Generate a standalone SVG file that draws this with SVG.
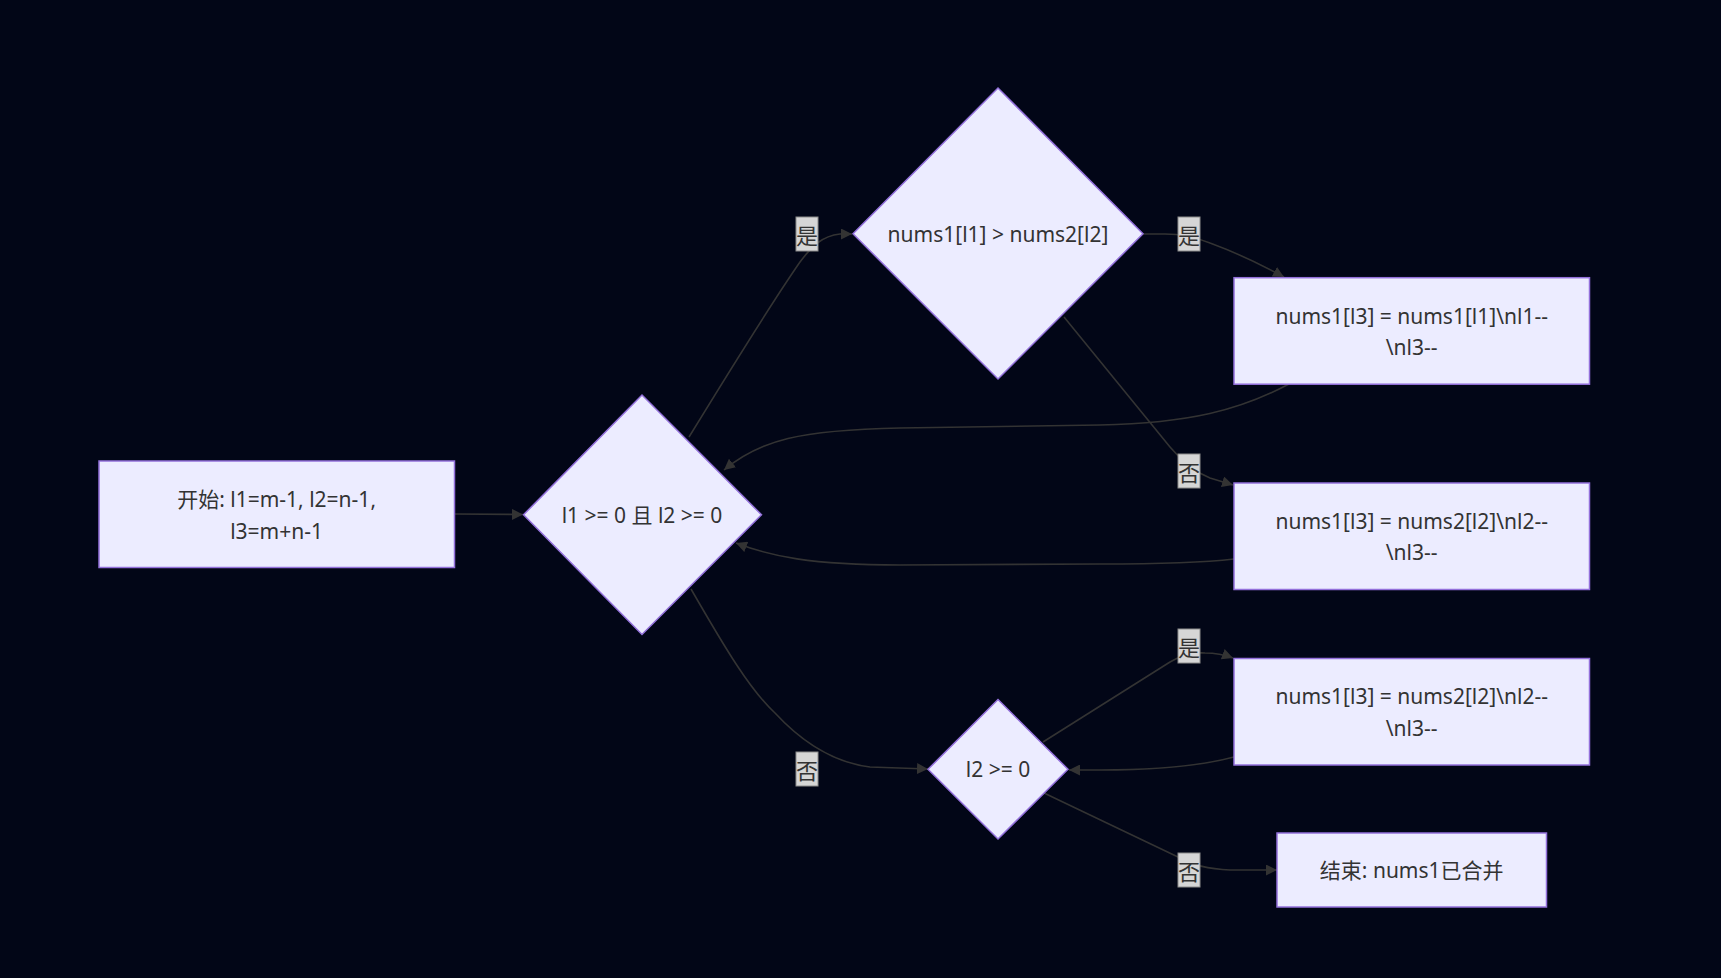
<svg xmlns="http://www.w3.org/2000/svg" width="1721" height="978" viewBox="0 0 1721 978">
<style>
.bg{fill:#020617}
.node{fill:#ECECFF;stroke:#9370DB;stroke-width:1.5}
.t{font-family:"Noto Sans","Noto Sans CJK SC",sans-serif;font-size:21px;fill:#333333;text-anchor:middle;dominant-baseline:central}
.edge{fill:none;stroke:#333333;stroke-width:1.6}
.lbl{fill:#d6d6d6;stroke:#8c8c8c;stroke-width:1}
.lt{font-family:"Noto Sans CJK SC","Noto Sans",sans-serif;font-size:22px;fill:#333333;text-anchor:middle;dominant-baseline:central}
</style>
<defs>
<marker id="arrow" viewBox="0 0 10 10" refX="10" refY="5" markerWidth="11" markerHeight="11" markerUnits="userSpaceOnUse" orient="auto">
<path d="M0,0 L10,5 L0,10 z" fill="#333333"/>
</marker>
</defs>
<rect class="bg" x="0" y="0" width="1721" height="978"/>
<g id="connectors">
<path class="edge" marker-end="url(#arrow)" d="M455,514 L523,514.5"/>
<path class="edge" marker-end="url(#arrow)" d="M689,437 C735,362 775,298 800,262 C812,246 822,236 840,234 L852,234"/>
<path class="edge" marker-end="url(#arrow)" d="M1143,234 L1165,234 C1182,234 1195,237 1210,243 C1240,254 1262,265 1284,277"/>
<path class="edge" marker-end="url(#arrow)" d="M1289,384 C1240,410 1190,423 1100,425 L900,428 C800,430 760,440 724,470"/>
<path class="edge" marker-end="url(#arrow)" d="M1064,317 L1170,447 C1180,459 1195,472 1210,478 L1233,485"/>
<path class="edge" marker-end="url(#arrow)" d="M1234,559 C1200,563 1160,564 1100,564 L900,565 C810,565 770,556 736,543"/>
<path class="edge" marker-end="url(#arrow)" d="M691,589 C725,648 750,690 775,713 C800,740 830,762 870,767 L928,769"/>
<path class="edge" marker-end="url(#arrow)" d="M1043,742 L1170,662 C1180,656 1190,652 1205,653 C1215,653 1225,655 1233,658"/>
<path class="edge" marker-end="url(#arrow)" d="M1234,757 C1200,766 1160,770 1100,770 L1069,770"/>
<path class="edge" marker-end="url(#arrow)" d="M1044,793 L1178,857 C1190,864 1205,869 1230,870 L1277,870"/>
<g id="edge-labels">
<rect class="lbl" x="796" y="217" width="22" height="34"/><text class="lt" x="807" y="234">是</text>
<rect class="lbl" x="1178" y="217" width="22" height="34"/><text class="lt" x="1189" y="234">是</text>
<rect class="lbl" x="1178" y="454" width="22" height="34"/><text class="lt" x="1189" y="471">否</text>
<rect class="lbl" x="1178" y="629" width="22" height="34"/><text class="lt" x="1189" y="646">是</text>
<rect class="lbl" x="796" y="752" width="22" height="34"/><text class="lt" x="807" y="769">否</text>
<rect class="lbl" x="1178" y="853" width="22" height="34"/><text class="lt" x="1189" y="870">否</text>
</g>
</g>
<g id="start">
<rect class="node" x="99" y="461" width="355.5" height="106.5"/>
<text class="t" x="276.6" y="499">开始: l1=m-1, l2=n-1,</text>
<text class="t" x="276.6" y="531">l3=m+n-1</text>
</g>
<g id="cond1">
<polygon class="node" points="642,395 761.5,514.8 642,634.5 523.5,514.8"/>
<text class="t" x="642" y="515">l1 &gt;= 0 且 l2 &gt;= 0</text>
</g>
<g id="cond2">
<polygon class="node" points="998,88 1143,233.8 998,379 853,233.8"/>
<text class="t" x="998" y="234">nums1[l1] &gt; nums2[l2]</text>
</g>
<g id="step1">
<rect class="node" x="1234" y="277.7" width="355.5" height="106.5"/>
<text class="t" x="1411.7" y="315.5">nums1[l3] = nums1[l1]\nl1--</text>
<text class="t" x="1411.7" y="347">\nl3--</text>
</g>
<g id="step2">
<rect class="node" x="1234" y="483" width="355.5" height="106.5"/>
<text class="t" x="1411.7" y="520.7">nums1[l3] = nums2[l2]\nl2--</text>
<text class="t" x="1411.7" y="552">\nl3--</text>
</g>
<g id="cond3">
<polygon class="node" points="998,699.5 1068,769.3 998,839 928,769.3"/>
<text class="t" x="998" y="769.3">l2 &gt;= 0</text>
</g>
<g id="step3">
<rect class="node" x="1234" y="658.5" width="355.5" height="106.5"/>
<text class="t" x="1411.7" y="696">nums1[l3] = nums2[l2]\nl2--</text>
<text class="t" x="1411.7" y="727.5">\nl3--</text>
</g>
<g id="end">
<rect class="node" x="1277" y="833" width="269.5" height="74"/>
<text class="t" x="1411.7" y="870">结束: nums1已合并</text>
</g>
</svg>
